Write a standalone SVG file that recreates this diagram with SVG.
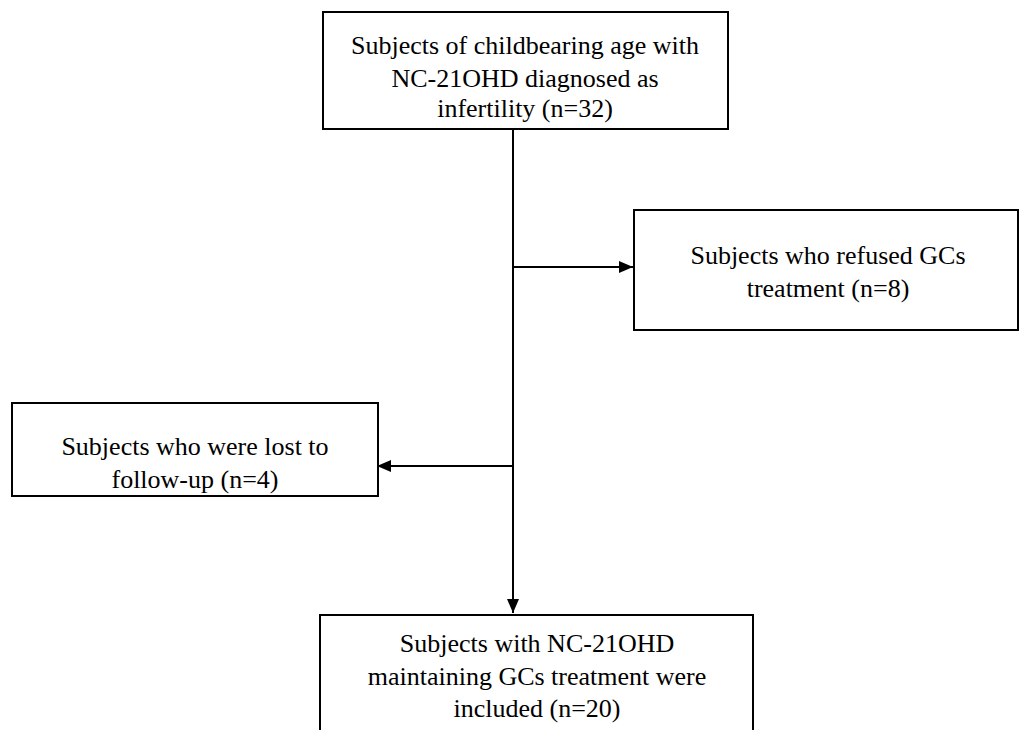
<svg xmlns="http://www.w3.org/2000/svg" width="1021" height="730" viewBox="0 0 1021 730">
<style>
.box{fill:#fff;stroke:#000;stroke-width:2}
.t{font-family:"Liberation Serif","Times New Roman",serif;font-size:26px;fill:#000;text-anchor:middle}
.c{stroke:#000;stroke-width:2;fill:none}
</style>
<defs>
<marker id="ah" viewBox="0 0 14 12" refX="14" refY="6" markerWidth="14" markerHeight="12" markerUnits="userSpaceOnUse" orient="auto">
<path d="M0,0 L14,6 L0,12 Z" fill="#000"/>
</marker>
</defs>
<rect width="1021" height="730" fill="#fff"/>
<g id="connectors">
<line class="c" x1="513" y1="129" x2="513" y2="613" marker-end="url(#ah)"/>
<line class="c" x1="513" y1="267" x2="633" y2="267" marker-end="url(#ah)"/>
<line class="c" x1="513" y1="466" x2="377" y2="466" marker-end="url(#ah)"/>
</g>
<g id="node-top">
<rect class="box" x="323" y="12" width="405" height="117"/>
<text class="t" x="525" y="54">Subjects of childbearing age with</text>
<text class="t" x="525" y="87">NC-21OHD diagnosed as</text>
<text class="t" x="525" y="117">infertility (n=32)</text>
</g>
<g id="node-refused">
<rect class="box" x="634" y="210" width="384" height="120"/>
<text class="t" x="828" y="264">Subjects who refused GCs</text>
<text class="t" x="828" y="297">treatment (n=8)</text>
</g>
<g id="node-lost">
<rect class="box" x="12" y="403" width="366" height="93"/>
<text class="t" x="195" y="455">Subjects who were lost to</text>
<text class="t" x="195" y="488">follow-up (n=4)</text>
</g>
<g id="node-included">
<rect class="box" x="320" y="615" width="433" height="130"/>
<text class="t" x="537" y="652">Subjects with NC-21OHD</text>
<text class="t" x="537" y="685">maintaining GCs treatment were</text>
<text class="t" x="537" y="717">included (n=20)</text>
</g>
</svg>
